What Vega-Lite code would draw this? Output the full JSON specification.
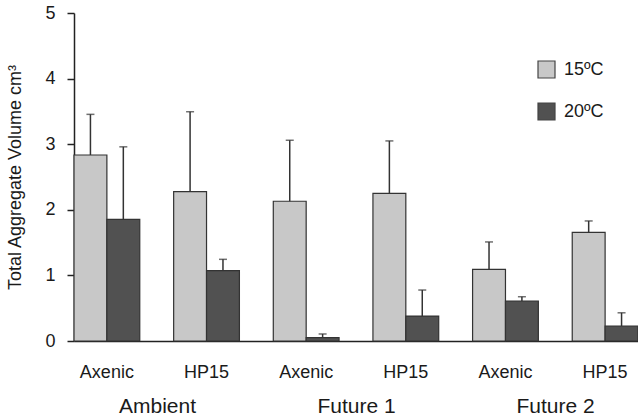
{
  "$schema": "https://vega.github.io/schema/vega-lite/v6.json",
  "width": 564,
  "height": 328,
  "autosize": {"type": "none"},
  "padding": {"left": 74, "top": 13, "right": 0, "bottom": 76},
  "config": {
    "view": {"stroke": null},
    "font": "Liberation Sans",
    "axis": {"labelColor": "#1a1a1a", "titleColor": "#1a1a1a", "domainColor": "#222", "tickColor": "#222", "domainWidth": 1.5, "tickWidth": 1.5, "grid": false}
  },
  "data": {
    "values": [
      {"condition": "Ambient", "group": "Ambient|Axenic", "temp": "15ºC", "value": 2.835, "hi": 3.455},
      {"condition": "Ambient", "group": "Ambient|Axenic", "temp": "20ºC", "value": 1.855, "hi": 2.96},
      {"condition": "Ambient", "group": "Ambient|HP15", "temp": "15ºC", "value": 2.276, "hi": 3.495},
      {"condition": "Ambient", "group": "Ambient|HP15", "temp": "20ºC", "value": 1.072, "hi": 1.245},
      {"condition": "Future 1", "group": "Future 1|Axenic", "temp": "15ºC", "value": 2.13, "hi": 3.06},
      {"condition": "Future 1", "group": "Future 1|Axenic", "temp": "20ºC", "value": 0.05, "hi": 0.107},
      {"condition": "Future 1", "group": "Future 1|HP15", "temp": "15ºC", "value": 2.25, "hi": 3.05},
      {"condition": "Future 1", "group": "Future 1|HP15", "temp": "20ºC", "value": 0.38, "hi": 0.777},
      {"condition": "Future 2", "group": "Future 2|Axenic", "temp": "15ºC", "value": 1.093, "hi": 1.51},
      {"condition": "Future 2", "group": "Future 2|Axenic", "temp": "20ºC", "value": 0.61, "hi": 0.675},
      {"condition": "Future 2", "group": "Future 2|HP15", "temp": "15ºC", "value": 1.657, "hi": 1.83},
      {"condition": "Future 2", "group": "Future 2|HP15", "temp": "20ºC", "value": 0.229, "hi": 0.43}
    ]
  },
  "layer": [
    {
      "encoding": {
        "x": {
          "field": "group", "type": "nominal",
          "sort": ["Ambient|Axenic", "Ambient|HP15", "Future 1|Axenic", "Future 1|HP15", "Future 2|Axenic", "Future 2|HP15"],
          "scale": {"paddingInner": 0.34, "paddingOuter": 0},
          "axis": {"title": null, "ticks": false, "labelAngle": 0, "labelFontSize": 18, "labelPadding": 22, "labelExpr": "split(datum.label, '|')[1]"}
        },
        "xOffset": {"field": "temp", "type": "nominal", "scale": {"paddingInner": 0, "paddingOuter": 0}}
      },
      "layer": [
        {
          "mark": {"type": "bar", "stroke": "#333", "strokeWidth": 1.2},
          "encoding": {
            "y": {
              "field": "value", "type": "quantitative",
              "scale": {"domain": [0, 5], "nice": false},
              "axis": {
                "title": "Total Aggregate Volume cm³",
                "titleFontSize": 18, "titleFontWeight": "normal", "titlePadding": 20,
                "values": [0, 0.5, 1, 1.5, 2, 2.5, 3, 3.5, 4, 4.5, 5],
                "labelExpr": "datum.value % 1 == 0 ? format(datum.value, 'd') : ''",
                "labelFontSize": 18, "labelPadding": 12, "tickSize": 7
              }
            },
            "fill": {
              "field": "temp", "type": "nominal",
              "scale": {"domain": ["15ºC", "20ºC"], "range": ["#c8c8c8", "#515151"]},
              "legend": {
                "title": null, "orient": "none", "legendX": 463, "legendY": 47,
                "symbolType": "square", "symbolSize": 289, "symbolStrokeColor": "#444", "symbolStrokeWidth": 1.2,
                "labelFontSize": 18, "labelColor": "#1a1a1a", "labelOffset": 8, "rowPadding": 19, "padding": 0
              }
            }
          }
        },
        {
          "mark": {"type": "rule", "color": "#333", "strokeWidth": 1.5},
          "encoding": {"y": {"field": "value", "type": "quantitative"}, "y2": {"field": "hi"}}
        },
        {
          "mark": {"type": "tick", "color": "#333", "thickness": 1.5, "size": 8, "orient": "horizontal"},
          "encoding": {"y": {"field": "hi", "type": "quantitative"}}
        }
      ]
    },
    {
      "mark": {"type": "point", "opacity": 0},
      "encoding": {
        "x": {
          "field": "condition", "type": "nominal",
          "scale": {"type": "point", "padding": 0.417},
          "axis": {"title": null, "orient": "bottom", "offset": 34, "domain": false, "ticks": false, "labelAngle": 0, "labelFontSize": 21, "labelPadding": 20}
        }
      }
    }
  ],
  "resolve": {"scale": {"x": "independent"}, "axis": {"x": "independent"}}
}
